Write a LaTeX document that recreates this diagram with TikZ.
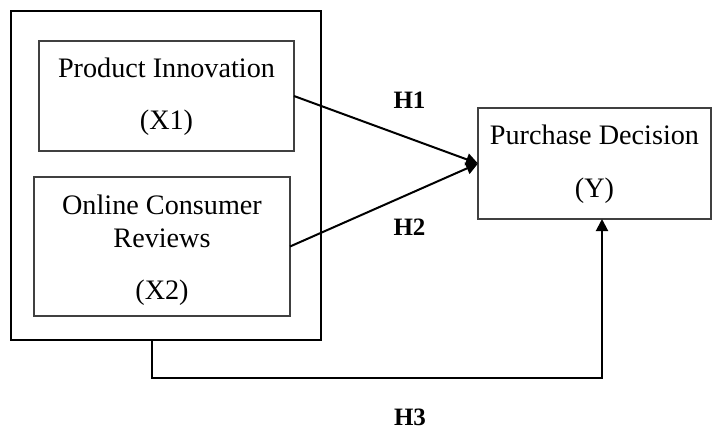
\documentclass[tikz,border=0pt]{standalone}
\usepackage{fontspec}
\setmainfont{Liberation Serif}
\usetikzlibrary{arrows.meta}
\begin{document}
\begin{tikzpicture}[x=0.5pt,y=-0.5pt,
  box/.style={draw=black!75,line width=0.55pt,inner sep=0pt,outer sep=0pt},
  outerbox/.style={draw=black,line width=1.2pt,inner sep=0pt,outer sep=0pt},
  txt/.style={inner sep=0pt,anchor=base,font=\fontsize{14.1}{17}\selectfont},
  hyp/.style={inner sep=0pt,anchor=base,font=\fontsize{12.5}{15}\selectfont\bfseries},
  conn/.style={line width=1pt,-{Triangle[length=6pt,width=6pt]}}]
\useasboundingbox (0,0) rectangle (722,430);
\node[outerbox,minimum width=155pt,minimum height=164.5pt] (outer) at (166,175.5) {};
\node[box,minimum width=127.5pt,minimum height=55pt] (b1) at (166.5,96) {};
\node[box,minimum width=128pt,minimum height=69.5pt] (b2) at (162,246.5) {};
\node[box,minimum width=116.5pt,minimum height=55.5pt] (pd) at (594.5,163.5) {};
\node[txt] (t1a) at (166.5,77) {Product Innovation};
\node[txt] (t1b) at (166.5,129) {(X1)};
\node[txt] (t2a) at (162,214) {Online Consumer};
\node[txt] (t2b) at (162,247) {Reviews};
\node[txt] (t2c) at (162,299) {(X2)};
\node[txt] (tya) at (594.5,144) {Purchase Decision};
\node[txt] (tyb) at (594.5,197) {(Y)};
\node[hyp] (h1) at (409.5,108) {H1};
\node[hyp] (h2) at (409.5,235) {H2};
\node[hyp] (h3) at (410,425) {H3};
\coordinate (s3) at (152,340);
\coordinate (c1) at (152,378);
\coordinate (c2) at (602,378);
\coordinate (e3) at (602,219);
\draw[conn] (b1.east) -- (pd.west);
\draw[conn] (b2.east) -- (pd.west);
\draw[conn] (s3) -- (c1) -- (c2) -- (e3);
\end{tikzpicture}
\end{document}
